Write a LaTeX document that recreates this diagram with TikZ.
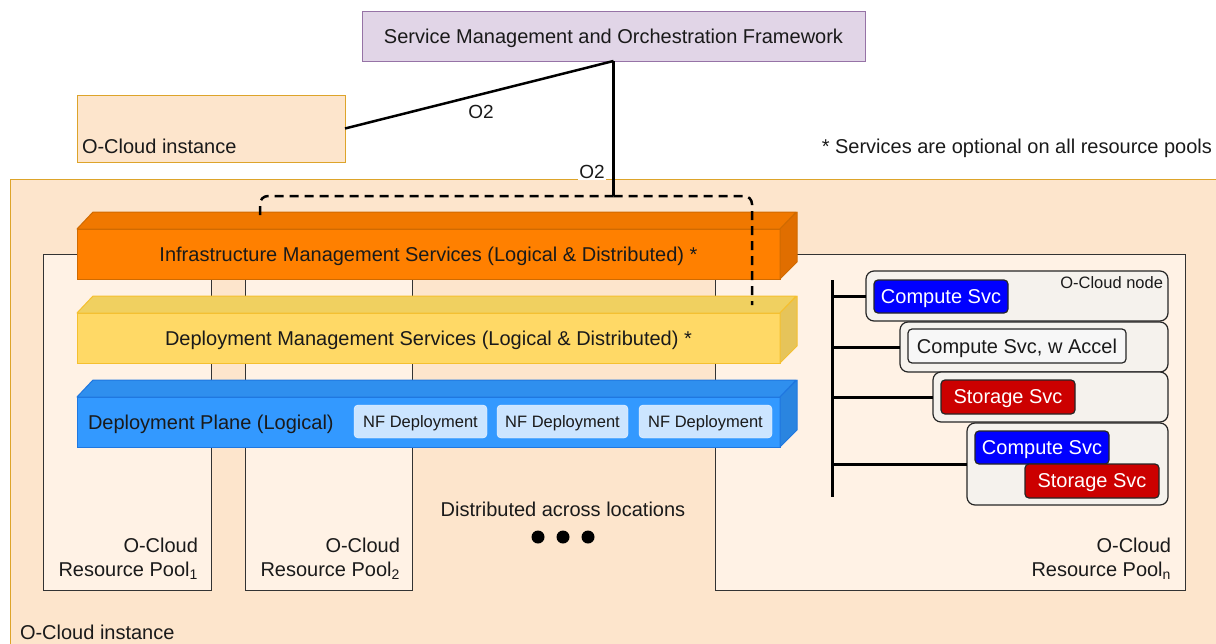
\documentclass[tikz,border=0pt]{standalone}
\usepackage{fontspec}
\setmainfont{Liberation Sans}
\definecolor{smoF}{HTML}{E1D5E7}
\definecolor{smoB}{HTML}{9673A6}
\definecolor{ociF}{HTML}{FDE5CC}
\definecolor{ociB}{HTML}{DDA42A}
\definecolor{poolF}{HTML}{FFF2E5}
\definecolor{imsF}{HTML}{FF8000}
\definecolor{imsT}{HTML}{F07800}
\definecolor{imsS}{HTML}{E06E00}
\definecolor{imsB}{HTML}{D06A00}
\definecolor{dmsF}{HTML}{FFD966}
\definecolor{dmsT}{HTML}{F0D060}
\definecolor{dmsS}{HTML}{E6C45A}
\definecolor{dmsB}{HTML}{F5C030}
\definecolor{dpF}{HTML}{3399FF}
\definecolor{dpT}{HTML}{2F8FEE}
\definecolor{dpS}{HTML}{2A85E0}
\definecolor{dpB}{HTML}{1F77E0}
\definecolor{nfF}{HTML}{CCE5FF}
\definecolor{nodeF}{HTML}{F5F2ED}
\definecolor{txt}{HTML}{1A1A1A}
\definecolor{svcBlue}{HTML}{0000FF}
\definecolor{svcRed}{HTML}{CC0000}
\begin{document}
\begin{tikzpicture}[x=1pt,y=-1pt,
  every node/.style={inner sep=0pt,outer sep=0pt,text=txt,font=\fontsize{20}{24}\selectfont},
  lbl/.style={yshift=-2pt},
  box/.style={rectangle,anchor=north west},
  slab/.style={box,line width=1pt},
  pool/.style={box,fill=poolF,draw=black!80,line width=1pt},
  cnode/.style={box,rounded corners=8pt,fill=nodeF,draw=black!85,line width=1.2pt},
  svc/.style={box,rounded corners=4pt,draw=black!85,line width=1.2pt,text=white},
  nf/.style={box,rounded corners=4pt,fill=nfF,draw=white!80!nfF,font=\fontsize{16.5}{20}\selectfont},
  iface/.style={line width=2.5pt,black},
  dashline/.style={line width=2.5pt,black,dash pattern=on 9pt off 6pt},
  bus/.style={line width=3pt,black}]
\useasboundingbox (0,0) rectangle (1216,643);

% outer O-Cloud instance
\node[box,fill=ociF,draw=ociB,line width=1pt,minimum width=1220,minimum height=470] (big) at (10,179) {};
\node[anchor=base west] (bigl) at (20,639) {O-Cloud instance};

% SMO
\node[box,fill=smoF,draw=smoB,line width=1pt,minimum width=503,minimum height=50] (smo) at (362,11) {};
\node[lbl] (smol) at (smo.center) {Service Management and Orchestration Framework};

% small O-Cloud instance
\node[box,fill=ociF,draw=ociB,line width=1pt,minimum width=268,minimum height=67] (oci) at (77,95) {};
\node[anchor=base west] (ocil) at (82,153) {O-Cloud instance};

\node[anchor=base east] (note) at (1212,153) {* Services are optional on all resource pools};

% pools
\node[pool,minimum width=168,minimum height=336] (p1) at (43,254) {};
\node[pool,minimum width=167,minimum height=336] (p2) at (245,254) {};
\node[pool,minimum width=470,minimum height=336] (pn) at (715,254) {};
\node[anchor=base east,align=right] (p1l) at (198,576) {O-Cloud\\Resource Pool\textsubscript{1}};
\node[anchor=base east,align=right] (p2l) at (400,576) {O-Cloud\\Resource Pool\textsubscript{2}};
\node[anchor=base east,align=right] (pnl) at (1171,576) {O-Cloud\\Resource Pool\textsubscript{n}};

\node[lbl] (dist) at (563,507) {Distributed across locations};
\fill[black] (538,537) circle (6.5) (563,537) circle (6.5) (588,537) circle (6.5);

% IMS slab
\node[slab,fill=imsF,draw=imsB,minimum width=703,minimum height=50] (ims) at (77,229) {};
\filldraw[fill=imsT,draw=imsB,line width=1pt,line join=round] (ims.north west) -- ++(16,-17) -- ++(703,0) -- (ims.north east) -- cycle;
\filldraw[fill=imsS,draw=imsB,line width=1pt,line join=round] (ims.north east) -- ++(17,-17) -- ++(0,50) -- (ims.south east) -- cycle;
\node[lbl] (imsl) at (ims.center) {Infrastructure Management Services (Logical \& Distributed) *};

% DMS slab
\node[slab,fill=dmsF,draw=dmsB,minimum width=703,minimum height=50] (dms) at (77,313) {};
\filldraw[fill=dmsT,draw=dmsB,line width=1pt,line join=round] (dms.north west) -- ++(16,-17) -- ++(703,0) -- (dms.north east) -- cycle;
\filldraw[fill=dmsS,draw=dmsB,line width=1pt,line join=round] (dms.north east) -- ++(17,-17) -- ++(0,50) -- (dms.south east) -- cycle;
\node[lbl] (dmsl) at (dms.center) {Deployment Management Services (Logical \& Distributed) *};

% Deployment plane slab
\node[slab,fill=dpF,draw=dpB,minimum width=703,minimum height=50] (dp) at (77,397) {};
\filldraw[fill=dpT,draw=dpB,line width=1pt,line join=round] (dp.north west) -- ++(16,-17) -- ++(703,0) -- (dp.north east) -- cycle;
\filldraw[fill=dpS,draw=dpB,line width=1pt,line join=round] (dp.north east) -- ++(17,-17) -- ++(0,50) -- (dp.south east) -- cycle;
\node[anchor=west,lbl] (dpl) at (88,422) {Deployment Plane (Logical)};
\node[nf,minimum width=133,minimum height=33] (nf1) at (354,405) {};
\node[nf,minimum width=131,minimum height=33] (nf2) at (497,405) {};
\node[nf,minimum width=133,minimum height=33] (nf3) at (639,405) {};
\node[lbl,font=\fontsize{16.5}{20}\selectfont] (nf1l) at (nf1.center) {NF Deployment};
\node[lbl,font=\fontsize{16.5}{20}\selectfont] (nf2l) at (nf2.center) {NF Deployment};
\node[lbl,font=\fontsize{16.5}{20}\selectfont] (nf3l) at (nf3.center) {NF Deployment};

% O2 connectors
\coordinate (junc) at (613.5,196);
\coordinate (dl) at (260,220);
\coordinate (dr) at (752,305);
\draw[iface] (smo.south) -- (oci.east);
\node[fill=white,inner sep=1pt,font=\fontsize{19}{22}\selectfont] (o2a) at (481,112) {O2};
\draw[iface] (smo.south) -- (junc);
\node[fill=white,inner sep=1pt,font=\fontsize{19}{22}\selectfont] (o2b) at (592,172) {O2};
\draw[dashline,rounded corners=8pt] (junc) -- (dl |- junc) -- (dl);
\draw[dashline,rounded corners=8pt] (junc) -- (dr |- junc) -- (dr);

% O-Cloud nodes in pool n
\node[cnode,minimum width=302,minimum height=50] (n1) at (866,271) {};
\node[cnode,minimum width=268,minimum height=50] (n2) at (900,322) {};
\node[cnode,minimum width=235,minimum height=50] (n3) at (933,372) {};
\node[cnode,minimum width=201,minimum height=82] (n4) at (967,423) {};
\node[anchor=east,font=\fontsize{16.5}{20}\selectfont] (n1l) at (1163,283) {O-Cloud node};
\node[svc,fill=svcBlue,minimum width=134,minimum height=33] (c1) at (874,280) {};
\node[lbl,text=white] (c1l) at (c1.center) {Compute Svc};
\node[svc,fill=white!97!black,text=txt,minimum width=218,minimum height=34] (c2) at (908,329) {};
\node[lbl] (c2l) at (c2.center) {Compute Svc, w Accel};
\node[svc,fill=svcRed,minimum width=134,minimum height=34] (s3) at (941,380) {};
\node[lbl,text=white] (s3l) at (s3.center) {Storage Svc};
\node[svc,fill=svcBlue,minimum width=134,minimum height=33] (c4) at (975,431) {};
\node[lbl,text=white] (c4l) at (c4.center) {Compute Svc};
\node[svc,fill=svcRed,minimum width=134,minimum height=34] (s4) at (1025,464) {};
\node[lbl,text=white] (s4l) at (s4.center) {Storage Svc};

\coordinate (bt) at (832,280);
\coordinate (bb) at (832,497);
\draw[bus] (bt) -- (bb);
\draw[bus] (bt |- n1.west) -- (n1.west);
\draw[bus] (bt |- n2.west) -- (n2.west);
\draw[bus] (bt |- n3.west) -- (n3.west);
\draw[bus] (bt |- n4.west) -- (n4.west);
\end{tikzpicture}
\end{document}
